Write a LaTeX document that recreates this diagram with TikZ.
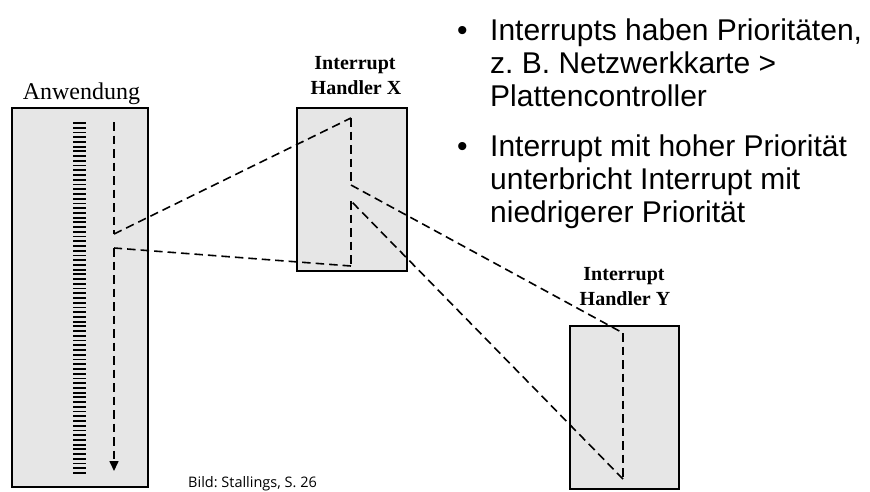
\documentclass[tikz,border=0pt]{standalone}
\usepackage{fontspec}
\setmainfont{Liberation Serif}
\newfontfamily\slidefont{Liberation Sans}
\newfontfamily\notefont{Open Sans}
\usetikzlibrary{arrows.meta}
\definecolor{boxgray}{HTML}{E6E6E6}

\begin{document}
\frenchspacing
\begin{tikzpicture}[x=1pt,y=-1pt,
  box/.style={draw=black, line width=1.6pt, fill=boxgray, inner sep=0pt},
  flow/.style={line width=1.6pt, dash pattern=on 8.5pt off 5pt},
  tickmark/.style={line width=1.8pt},
  applbl/.style={font=\fontsize{24}{28}\selectfont, inner sep=0pt, anchor=base},
  hlbl/.style={font=\fontsize{20}{24}\selectfont\bfseries, inner sep=0pt, anchor=base},
  bline/.style={font=\slidefont\fontsize{30}{34}\selectfont, inner sep=0pt, anchor=base west},
  note/.style={font=\notefont\fontsize{14.5}{17}\selectfont, inner sep=0pt, anchor=base west}]
\useasboundingbox (0,0) rectangle (870,491);

% program boxes
\node[box, minimum width=136pt, minimum height=379pt] (app) at (80,297.5) {};
\node[box, minimum width=110pt, minimum height=163pt] (hx) at (352,189.5) {};
\node[box, minimum width=109pt, minimum height=163pt] (hy) at (624.5,407.5) {};

% box titles
\node[applbl] (applbl) at (81.5,99) {Anwendung};
\node[hlbl] (hxa) at (355,69) {Interrupt};
\node[hlbl] (hxb) at (356,94) {Handler X};
\node[hlbl] (hya) at (624,280) {Interrupt};
\node[hlbl] (hyb) at (625,305) {Handler Y};

% instruction ladder of the application
\foreach \k in {0,...,74}
  \draw[tickmark] (73,{123+\k*4.73}) -- ++(13,0);

% control flow points
\coordinate (a0) at (114,122);
\coordinate (a1) at (114,234);
\coordinate (x0) at (351,118);
\coordinate (x1) at (351,185);
\coordinate (y0) at (623,333);
\coordinate (y1) at (623,479);
\coordinate (x2) at (351,201);
\coordinate (x3) at (351,266);
\coordinate (a2) at (114,248);
\coordinate (a3) at (114,471);

% control flow
\draw[flow] (a0) -- (a1);
\draw[flow] (a1) -- (x0);
\draw[flow] (x0) -- (x1);
\draw[flow] (x1) -- (y0);
\draw[flow] (y0) -- (y1);
\draw[flow] (y1) -- (x2);
\draw[flow] (x2) -- (x3);
\draw[flow] (x3) -- (a2);
\draw[flow, -{Triangle[length=10pt,width=9pt]}] (a2) -- (a3);

% bullet points
\node[bline] (d1) at (457,40) {\textbullet};
\node[bline] (l1) at (490,40) {Interrupts haben Prioritäten,};
\node[bline] (l2) at (490,73) {z. B. Netzwerkkarte >};
\node[bline] (l3) at (490,106) {Plattencontroller};
\node[bline] (d2) at (457,156) {\textbullet};
\node[bline] (l4) at (490,156) {Interrupt mit hoher Priorität};
\node[bline] (l5) at (490,189) {unterbricht Interrupt mit};
\node[bline] (l6) at (490,222) {niedrigerer Priorität};

% source
\node[note] (src) at (188,487) {Bild: Stallings, S. 26};
\end{tikzpicture}
\end{document}
